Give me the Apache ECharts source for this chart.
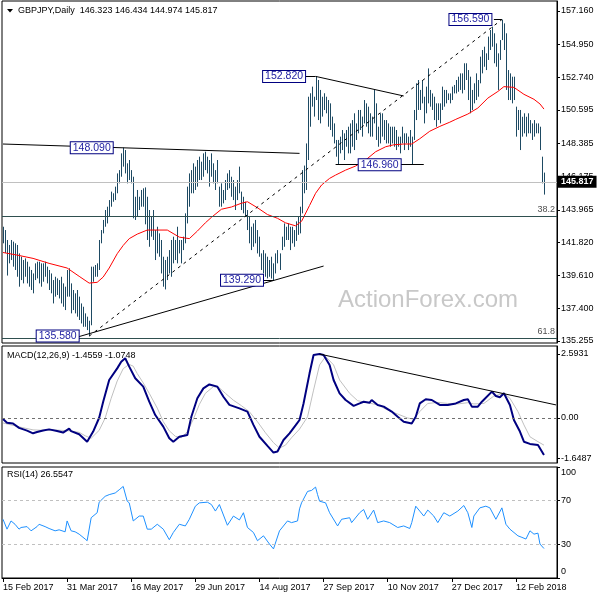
<!DOCTYPE html>
<html><head><meta charset="utf-8">
<script src="https://cdn.jsdelivr.net/npm/echarts@6/dist/echarts.min.js"></script>
<style>html,body{margin:0;padding:0;background:#fff}#c{width:600px;height:600px}</style>
</head><body><div id="c"></div>
<script>
// ---------- DATA ----------
const dateLabels = ['15 Feb 2017','31 Mar 2017','16 May 2017','29 Jun 2017','14 Aug 2017','27 Sep 2017','10 Nov 2017','27 Dec 2017','12 Feb 2018'];
const highs = [
142.84,142.62,141.96,141.63,141.96,141.85,141.74,141.63,141.07,140.85,
140.63,140.74,140.52,140.19,139.97,139.74,140.41,140.52,140.52,140.41,
140.41,140.52,140.19,139.97,139.74,139.30,139.52,139.41,139.30,139.52,
139.08,138.86,139.97,140.08,139.08,138.64,138.42,138.64,138.20,137.75,
137.53,137.09,136.87,136.60,140.19,140.19,140.30,140.41,141.96,142.62,
143.29,143.95,144.17,144.61,145.17,145.06,145.50,146.38,146.60,147.71,
148.09,147.93,147.05,147.27,146.60,146.16,144.83,145.28,144.83,145.28,
145.39,145.45,144.83,143.95,143.51,143.95,142.62,142.84,142.40,141.96,
140.85,140.63,140.85,141.29,141.96,142.18,141.96,142.84,141.96,141.96,
142.18,143.73,145.50,146.38,146.60,147.05,146.83,147.27,147.49,147.16,
147.71,147.82,147.49,147.27,147.71,147.05,146.60,147.27,145.50,145.72,
145.28,145.94,146.38,146.60,146.16,145.94,145.50,145.94,146.83,145.17,
144.83,144.50,143.95,143.51,142.84,143.06,143.29,142.62,142.18,141.07,
141.29,141.07,140.85,140.63,140.85,140.41,141.07,141.29,141.07,142.18,
143.06,142.84,143.06,142.84,142.84,142.62,143.20,143.50,144.17,146.60,
146.90,148.37,151.47,151.70,152.14,151.47,152.82,152.58,151.92,151.47,
151.70,151.47,151.25,151.03,150.15,149.70,148.60,148.60,148.82,149.26,
149.04,149.26,149.48,149.70,149.92,150.37,149.70,150.59,150.59,150.15,
151.25,151.03,150.81,150.37,150.15,151.92,151.03,149.48,150.37,150.37,
149.92,149.92,149.70,149.48,149.48,149.48,149.26,148.82,148.82,149.48,
149.04,149.04,148.82,149.26,148.82,150.59,152.36,152.58,151.92,152.58,
151.47,152.14,153.35,151.92,151.69,151.47,151.03,151.03,151.03,152.14,
151.92,151.92,151.69,151.69,152.14,152.25,152.58,152.80,153.02,153.02,
153.69,153.69,153.24,152.80,151.92,152.36,153.02,152.58,154.13,154.57,
154.79,154.35,155.46,155.90,156.12,155.68,155.01,154.35,155.23,156.59,
156.34,155.68,153.24,153.02,152.80,152.80,150.81,150.59,150.59,150.14,
150.37,150.14,150.37,149.92,149.70,149.92,149.70,149.70,149.48,147.49,
146.434];
const lows = [
141.74,141.10,139.60,140.41,140.63,140.19,139.97,139.52,138.86,139.30,
139.08,139.52,139.08,138.86,138.64,138.42,139.30,139.41,139.08,138.86,
139.19,139.52,139.08,138.64,138.42,137.75,138.20,138.31,138.08,137.75,
137.53,137.31,138.20,138.20,137.09,137.31,137.09,136.87,136.65,136.42,
136.20,136.20,135.98,135.58,136.30,139.19,139.52,139.52,139.97,141.74,
142.40,142.84,143.06,143.51,144.17,144.50,144.61,145.06,145.72,146.16,
146.83,146.38,145.72,145.94,145.72,143.40,143.29,143.51,143.95,144.17,
144.17,143.00,141.96,141.51,142.18,141.96,140.63,141.07,140.85,139.74,
138.86,138.68,139.30,139.74,139.52,140.41,140.63,140.41,141.07,140.41,
141.29,141.74,143.06,144.17,145.06,145.06,145.28,145.50,145.94,145.94,
146.16,146.60,146.38,145.50,146.16,145.72,145.28,145.72,144.17,144.17,
144.39,144.61,145.28,145.39,144.83,144.61,143.95,144.61,145.06,143.95,
143.73,143.51,142.62,141.74,141.29,141.51,141.74,141.07,140.85,139.97,
139.74,139.52,139.41,139.52,139.40,139.29,139.74,140.41,139.97,141.29,
141.51,141.96,141.96,141.29,141.74,141.51,141.90,142.30,142.40,143.73,
145.06,145.28,147.27,149.48,150.81,150.15,151.25,149.92,149.70,150.15,
150.59,150.37,149.48,149.26,148.82,148.37,147.49,146.96,147.71,147.93,
147.27,148.15,147.71,147.71,148.15,147.93,148.60,149.04,149.26,148.82,
149.70,149.48,149.04,148.82,148.82,149.70,148.60,148.15,148.37,148.82,
148.60,148.37,148.37,148.15,148.37,148.15,147.93,148.15,147.71,148.38,
147.93,148.38,147.93,148.15,146.96,148.60,149.92,150.59,150.59,151.03,
149.70,150.37,151.03,150.81,150.59,149.92,149.48,149.92,149.70,150.59,
150.81,151.03,151.25,151.03,151.25,151.69,151.69,151.80,151.92,151.69,
151.92,152.58,151.25,150.37,150.59,151.03,151.25,151.47,152.36,153.02,
153.46,153.24,153.91,154.57,154.79,153.69,153.46,151.92,153.91,155.23,
154.57,151.92,151.25,151.25,151.03,151.25,148.82,149.26,147.93,148.82,
149.04,148.82,149.04,149.04,148.60,148.82,149.04,149.04,147.93,145.72,
144.974];
const maPoints = [[0,141.13],[7,140.96],[15,140.74],[23,140.41],[32,140.10],[38,139.55],[43,139.10],[47,139.15],[50,139.50],[53,140.10],[57,141.05],[60,141.60],[63,142.05],[67,142.35],[72,142.62],[82,142.62],[88,142.15],[93,142.05],[97,142.55],[101,143.10],[104,143.46],[109,144.00],[114,144.15],[119,144.40],[122,144.50],[127,144.10],[132,143.65],[137,143.40],[141,143.10],[146,142.90],[149,143.20],[153,144.25],[156,145.06],[159,145.61],[163,146.05],[166,146.27],[171,146.60],[176,146.87],[181,147.27],[186,147.82],[191,148.15],[195,148.28],[200,148.33],[204,148.33],[208,148.68],[213,149.18],[218,149.50],[223,149.78],[226,149.97],[232,150.32],[237,150.72],[242,151.38],[247,151.82],[250,152.14],[255,152.09],[260,151.63],[265,151.30],[268,150.99],[270,150.65]];
const macdPoints = [[0,-0.04],[2,-0.19],[5,-0.22],[8,-0.40],[12,-0.51],[15,-0.62],[17,-0.57],[20,-0.51],[23,-0.46],[27,-0.53],[30,-0.59],[33,-0.43],[34,-0.53],[38,-0.66],[42,-0.96],[45,-0.55],[48,0.01],[50,0.66],[53,1.54],[57,2.01],[59,2.28],[61,2.42],[63,2.08],[66,1.61],[70,1.27],[73,0.66],[76,0.12],[80,-0.35],[83,-0.82],[85,-0.96],[88,-0.76],[92,-0.69],[94,0.05],[97,0.80],[100,1.20],[103,1.36],[107,1.27],[110,0.86],[113,0.53],[118,0.39],[122,0.26],[125,-0.28],[128,-0.76],[132,-1.13],[135,-1.40],[137,-1.36],[140,-0.89],[143,-0.62],[146,-0.30],[148,-0.08],[150,0.59],[153,1.81],[155,2.55],[158,2.59],[160,2.55],[163,2.15],[165,1.54],[168,1.00],[171,0.73],[175,0.49],[178,0.59],[180,0.66],[183,0.62],[184,0.73],[187,0.53],[190,0.46],[194,0.26],[197,0.05],[200,-0.15],[204,-0.22],[206,0.05],[208,0.59],[211,0.76],[214,0.73],[218,0.53],[222,0.53],[226,0.59],[230,0.73],[232,0.76],[234,0.46],[237,0.46],[239,0.66],[244,1.07],[246,0.89],[248,0.84],[250,1.00],[253,0.53],[255,-0.08],[258,-0.55],[260,-0.96],[263,-1.05],[267,-1.09],[270,-1.50]];
const signalPoints = [[0,-0.20],[8,-0.36],[15,-0.48],[20,-0.50],[27,-0.49],[33,-0.52],[38,-0.58],[41,-0.72],[44,-0.82],[48,-0.50],[51,0.00],[54,0.80],[57,1.50],[60,2.00],[63,2.17],[65,2.10],[67,1.80],[70,1.42],[73,1.00],[77,0.40],[80,-0.15],[83,-0.52],[86,-0.74],[89,-0.80],[92,-0.55],[95,-0.05],[98,0.55],[101,1.00],[105,1.27],[108,1.22],[111,1.00],[115,0.72],[119,0.50],[123,0.25],[127,-0.15],[131,-0.60],[135,-1.00],[138,-1.22],[141,-1.10],[144,-0.80],[148,-0.45],[152,0.05],[155,1.13],[158,2.15],[161,2.49],[165,2.15],[168,1.54],[173,1.00],[177,0.70],[182,0.62],[187,0.53],[192,0.32],[197,0.16],[202,0.00],[205,-0.05],[208,0.26],[212,0.59],[217,0.63],[222,0.59],[227,0.57],[232,0.62],[235,0.57],[240,0.59],[245,0.89],[250,1.00],[253,0.80],[257,0.26],[260,-0.28],[263,-0.76],[267,-0.96],[270,-1.10]];
const rsiPoints = [[0,52.9],[2,44.0],[4,51.4],[6,48.4],[8,44.0],[9,45.5],[12,46.3],[14,42.5],[17,46.3],[18,48.4],[21,46.3],[23,44.6],[26,42.5],[28,43.4],[31,41.6],[32,51.4],[34,42.5],[36,41.6],[38,39.5],[41,35.1],[42,33.6],[44,54.3],[47,58.8],[48,68.3],[51,73.6],[53,75.1],[56,76.6],[58,79.5],[60,82.5],[62,69.2],[63,67.7],[65,51.4],[68,55.8],[70,55.8],[72,44.0],[74,44.0],[77,48.4],[80,44.0],[83,34.5],[85,41.0],[88,48.4],[91,46.9],[93,52.9],[96,64.7],[98,67.7],[102,68.3],[104,66.2],[106,60.3],[108,66.2],[112,47.5],[115,55.8],[118,52.3],[120,58.8],[122,45.5],[125,41.0],[127,33.6],[130,38.0],[133,30.6],[135,26.2],[138,42.5],[142,51.4],[144,49.9],[147,51.4],[148,62.3],[149,67.7],[152,78.0],[154,78.9],[156,81.9],[157,75.1],[158,69.2],[161,67.7],[163,58.8],[167,46.9],[169,52.9],[173,54.3],[174,49.9],[178,58.8],[180,61.7],[182,52.9],[185,61.2],[187,49.9],[190,51.4],[193,49.9],[197,45.5],[200,46.9],[203,44.6],[204,49.9],[206,64.7],[208,60.3],[210,55.8],[212,61.2],[215,55.8],[217,49.9],[220,58.8],[223,55.8],[227,60.3],[230,65.3],[232,58.8],[234,45.5],[235,55.8],[238,63.2],[241,64.7],[243,63.2],[246,52.9],[249,63.2],[251,48.4],[253,44.0],[257,38.0],[259,36.6],[261,35.1],[263,42.5],[265,39.5],[267,40.4],[268,30.6],[270,26.55]];
const priceTicks = [157.160,154.950,152.740,150.595,148.385,146.175,143.965,141.820,139.610,137.400,135.255];
const macdTicks = [2.5931, 0, -1.6487];
const rsiTicks = [0, 30, 70, 100];
const lastPrice = 145.817;
const fibLevels = [['38.2',143.53],['61.8',135.43]];
const swingLabels = [[60,148.09,'148.090','left'],[43,135.58,'135.580','left'],[135,139.29,'139.290','left'],[188,146.96,'146.960','inside'],[156,152.82,'152.820','left'],[249,156.59,'156.590','left']];
const trendLines = [[0,148.33,148,147.71,'solid'],[43,135.58,249,156.59,'dashed'],[38,135.55,160,140.23,'solid'],[156,152.82,200,151.52,'solid'],[166,146.96,210,146.96,'solid'],[130,139.29,135,139.29,'solid'],[151,152.82,156,152.82,'solid'],[245,156.59,249,156.59,'solid']];
const macdTrend = [158,2.59,276,0.53];

// ---------- CHART ----------
const N_SLOTS = 277;
const slots = Array.from({length: N_SLOTS}, (_, i) => String(i));
const FONT = '"Liberation Sans", Arial, sans-serif';
const chart = echarts.init(document.getElementById('c'), null, {renderer: 'canvas'});

function xAx(g, showLabels) {
  return {
    type: 'category', gridIndex: g, data: slots, boundaryGap: true,
    axisLine: {show: showLabels, lineStyle: {color: '#000'}},
    axisTick: {show: showLabels, interval: 31, alignWithLabel: true, length: 4, lineStyle: {color: '#000'}},
    axisLabel: {show: showLabels, interval: 31, align: 'left', margin: 5, fontSize: 9, fontFamily: FONT, color: '#000',
      formatter: (v, idx) => (idx % 32 === 0 && dateLabels[idx / 32]) ? dateLabels[idx / 32] : ''},
    splitLine: {show: false}
  };
}
function yAx(g, min, max, ticks, fmt) {
  return {
    type: 'value', gridIndex: g, position: 'right', min: min, max: max,
    axisLine: {show: true, lineStyle: {color: '#000'}},
    axisTick: {show: true, length: 3, customValues: ticks, lineStyle: {color: '#000'}},
    axisLabel: {show: true, customValues: ticks, formatter: fmt, margin: 4, fontSize: 9, lineHeight: 12, fontFamily: FONT, color: '#000'},
    splitLine: {show: false}
  };
}

const priceMarkLines = [
  {yAxis: lastPrice, lineStyle: {color: '#c0c0c0', type: 'solid', width: 1},
   label: {show: true, position: 'end', distance: 1, formatter: lastPrice.toFixed(3), color: '#fff', backgroundColor: '#000',
           padding: [2, 3, 1, 3], fontSize: 9, fontWeight: 'bold', fontFamily: FONT}}
];
fibLevels.forEach(f => priceMarkLines.push({yAxis: f[1], lineStyle: {color: '#2f4f4f', type: 'solid', width: 1},
  label: {show: true, position: 'insideEndTop', distance: 2, formatter: f[0], color: '#505050', fontSize: 9, fontFamily: FONT}}));
trendLines.forEach(t => priceMarkLines.push([
  {coord: [t[0], t[1]], lineStyle: {color: '#000', width: 1, type: t[4] === 'dashed' ? [3, 4] : 'solid'}},
  {coord: [t[2], t[3]]}
]));

const option = {
  animation: false,
  grid: [
    {left: 2, right: 43, top: 1, height: 342, show: true, borderColor: '#000', borderWidth: 1},
    {left: 2, right: 43, top: 346, height: 117, show: true, borderColor: '#000', borderWidth: 1},
    {left: 2, right: 43, top: 467, height: 111, show: true, borderColor: '#000', borderWidth: 1}
  ],
  xAxis: [xAx(0, false), xAx(1, false), xAx(2, true)],
  yAxis: [
    yAx(0, 135.123, 157.824, priceTicks, v => v.toFixed(3)),
    yAx(1, -1.823, 2.917, macdTicks, v => v === 0 ? '0.00' : v.toFixed(4)),
    yAx(2, 0, 100, rsiTicks, v => v === 100 ? '\n100' : (v === 0 ? '0\n' : String(v)))
  ],
  graphic: [
    {type: 'polygon', shape: {points: [[7, 9], [13, 9], [10, 12.5]]}, style: {fill: '#000'}},
    {type: 'text', left: 18, top: 6, style: {text: 'GBPJPY,Daily  146.323 146.434 144.974 145.817', font: '9px ' + FONT, fill: '#000'}},
    {type: 'text', left: 7, top: 351, style: {text: 'MACD(12,26,9) -1.4559 -1.0748', font: '9px ' + FONT, fill: '#000'}},
    {type: 'text', left: 7, top: 470, style: {text: 'RSI(14) 26.5547', font: '9px ' + FONT, fill: '#000'}},
    {type: 'text', left: 338, top: 288, z: -1, style: {text: 'ActionForex.com', font: '24px ' + FONT, fill: '#c8c8c8'}}
  ],
  series: [
    {
      type: 'custom', xAxisIndex: 0, yAxisIndex: 0, clip: true,
      data: highs.map((h, i) => [i, lows[i], h]),
      encode: {x: 0, y: [1, 2]},
      renderItem: (params, api) => {
        const i = api.value(0);
        const lo = api.coord([i, api.value(1)]);
        const hi = api.coord([i, api.value(2)]);
        const x = Math.round(lo[0]) + 0.5;
        return {type: 'line', shape: {x1: x, y1: lo[1], x2: x, y2: hi[1]}, style: {stroke: '#1e4a63', lineWidth: 1}};
      }
    },
    {
      type: 'line', xAxisIndex: 0, yAxisIndex: 0, data: maPoints, showSymbol: false, smooth: false,
      lineStyle: {color: '#ff0000', width: 1}, z: 3,
      markLine: {silent: true, symbol: ['none', 'none'], animation: false, label: {show: false}, data: priceMarkLines},
      markPoint: {
        silent: true, animation: false, symbol: 'rect', symbolSize: 1, itemStyle: {color: 'rgba(0,0,0,0)'},
        data: swingLabels.map(s => ({coord: [s[0], s[1]], name: s[2],
          label: {show: true, position: s[3], distance: 10, formatter: '{b}', color: '#2323a3', fontSize: 10.5, fontFamily: FONT,
                  backgroundColor: '#fff', borderColor: '#000080', borderWidth: 1, padding: [0, 2, 0, 2], lineHeight: 11}}))
      }
    },
    {
      type: 'line', xAxisIndex: 1, yAxisIndex: 1, data: signalPoints, showSymbol: false,
      lineStyle: {color: '#c0c0c0', width: 1}, z: 2,
      markLine: {silent: true, symbol: ['none', 'none'], animation: false, label: {show: false},
        data: [
          {yAxis: 0, lineStyle: {color: '#707070', type: [3, 3], width: 1}},
          [{coord: [macdTrend[0], macdTrend[1]], lineStyle: {color: '#000', type: 'solid', width: 1}}, {coord: [macdTrend[2], macdTrend[3]]}]
        ]}
    },
    {
      type: 'line', xAxisIndex: 1, yAxisIndex: 1, data: macdPoints, showSymbol: false,
      lineStyle: {color: '#000080', width: 2}, z: 3
    },
    {
      type: 'line', xAxisIndex: 2, yAxisIndex: 2, data: rsiPoints, showSymbol: false,
      lineStyle: {color: '#1e90ff', width: 1}, z: 3,
      markLine: {silent: true, symbol: ['none', 'none'], animation: false, label: {show: false},
        data: [{yAxis: 70, lineStyle: {color: '#c0c0c0', type: [3, 3], width: 1}}, {yAxis: 30, lineStyle: {color: '#c0c0c0', type: [3, 3], width: 1}}]}
    }
  ]
};
chart.setOption(option);
</script>
</body></html>
